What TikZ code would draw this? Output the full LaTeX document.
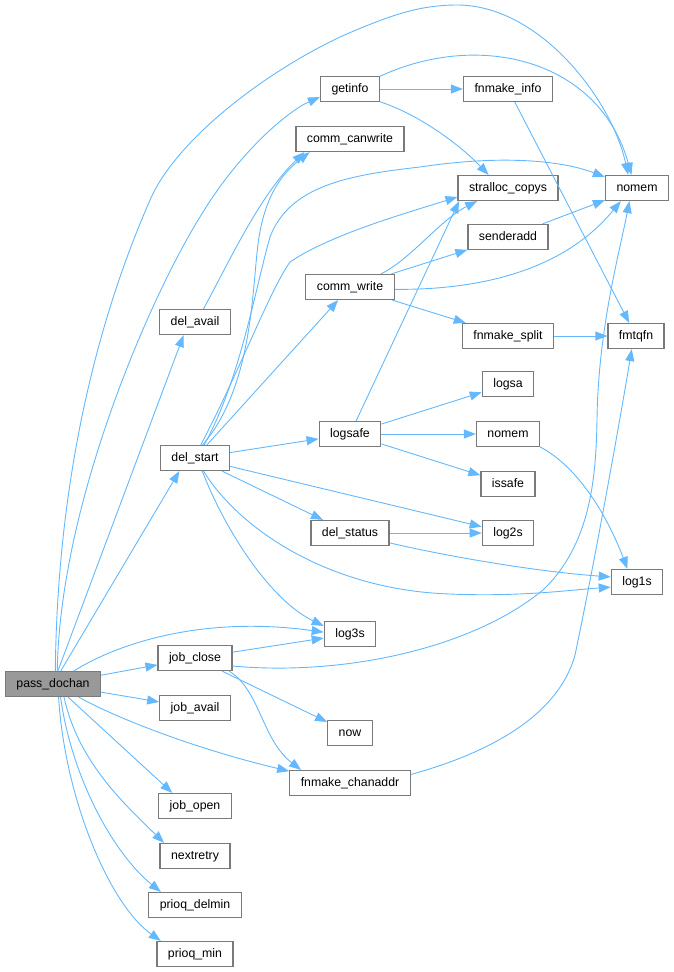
\documentclass[tikz,border=0pt]{standalone}
\usepackage{fontspec}
\setmainfont{Liberation Sans}
\usetikzlibrary{arrows.meta}
\definecolor{callblue}{HTML}{63B8FF}
\definecolor{boxgrey}{HTML}{7A7A7A}
\definecolor{rootgrey}{HTML}{999999}

\begin{document}
\begin{tikzpicture}[x=1pt,y=-1pt,>={Triangle[length=12pt,width=9pt]},
                  fn/.style={draw=boxgrey,line width=1.2pt,fill=white,minimum height=25pt,
                    inner xsep=11pt,inner ysep=0pt,text height=9pt,text depth=2.6pt,
                    font=\fontsize{12.3}{14}\selectfont},
                  call/.style={->,draw=callblue,line width=0.9pt}]
                  \useasboundingbox (0,0) rectangle (673,972);
                  % functions
                  \node[fn,fill=rootgrey] (passdochan) at (53,684) {pass\_dochan};
                  \node[fn] (delavail) at (195,322) {del\_avail};
                  \node[fn] (delstart) at (195,458) {del\_start};
                  \node[fn] (jobclose) at (195,658) {job\_close};
                  \node[fn] (jobavail) at (195,708) {job\_avail};
                  \node[fn] (jobopen) at (195,806) {job\_open};
                  \node[fn] (nextretry) at (195,856) {nextretry};
                  \node[fn] (prioqdelmin) at (195,905) {prioq\_delmin};
                  \node[fn] (prioqmin) at (195,954) {prioq\_min};
                  \node[fn] (getinfo) at (350,89) {getinfo};
                  \node[fn] (commcanwrite) at (350,139) {comm\_canwrite};
                  \node[fn] (commwrite) at (350,287) {comm\_write};
                  \node[fn] (logsafe) at (350,434) {logsafe};
                  \node[fn] (delstatus) at (350,533) {del\_status};
                  \node[fn] (logthrees) at (350,634) {log3s};
                  \node[fn] (now) at (350,733) {now};
                  \node[fn] (fnmakechanaddr) at (350,783) {fnmake\_chanaddr};
                  \node[fn] (fnmakeinfo) at (508,89) {fnmake\_info};
                  \node[fn] (stralloccopys) at (508,188) {stralloc\_copys};
                  \node[fn] (senderadd) at (508,237) {senderadd};
                  \node[fn] (fnmakesplit) at (508,336) {fnmake\_split};
                  \node[fn] (logsa) at (508,384) {logsa};
                  \node[fn] (nomemb) at (508,434) {nomem};
                  \node[fn] (issafe) at (508,484) {issafe};
                  \node[fn] (logtwos) at (508,533) {log2s};
                  \node[fn] (nomem) at (637,188) {nomem};
                  \node[fn] (fmtqfn) at (636,336) {fmtqfn};
                  \node[fn] (logones) at (637,582) {log1s};
                  % calls from pass_dochan
                  \draw[call] (passdochan.80) .. controls (58,420) and (125,258) .. (150,200)
                    .. controls (175,142) and (260,75) .. (340,37)
                    .. controls (390,15) and (420,5) .. (457,5)
                    .. controls (540,5) and (612,100) .. (nomem.124);
                  \draw[call] (passdochan.72) .. controls (60,500) and (153,292) .. (200,217)
                    .. controls (240,150) and (290,110) .. (getinfo.-165);
                  \draw[call] (passdochan) -- (delavail.-131);
                  \draw[call] (passdochan) -- (delstart.-140);
                  \draw[call] (passdochan.32) .. controls (115,645) and (200,615) .. (logthrees.176);
                  \draw[call] (passdochan) -- (jobclose);
                  \draw[call] (passdochan) -- (jobavail);
                  \draw[call] (passdochan.-27) .. controls (120,720) and (200,750) .. (fnmakechanaddr.169);
                  \draw[call] (passdochan.-41) -- (jobopen.150);
                  \draw[call] (passdochan.-50) .. controls (78,760) and (120,800) .. (nextretry.157);
                  \draw[call] (passdochan.-60) .. controls (72,780) and (115,855) .. (prioqdelmin.159);
                  \draw[call] (passdochan.-67) .. controls (65,800) and (110,905) .. (prioqmin.159);
                  % getinfo, del_avail
                  \draw[call] (getinfo) -- (fnmakeinfo);
                  \draw[call] (getinfo.23) .. controls (480,30) and (600,60) .. (nomem.113);
                  \draw[call] (getinfo.-23) .. controls (420,115) and (460,145) .. (stralloccopys.146);
                  \draw[call] (fnmakeinfo) -- (fmtqfn);
                  \draw[call] (delavail.57) .. controls (230,260) and (260,195) .. (commcanwrite.-164);
                  % del_start
                  \draw[call] (delstart.60) .. controls (250,390) and (252,300) .. (257,253)
                    .. controls (262,200) and (280,175) .. (commcanwrite.-162);
                  \draw[call] (delstart.55) .. controls (240,380) and (255,290) .. (270,237)
                    .. controls (290,185) and (350,175) .. (420,167)
                    .. controls (500,155) and (560,160) .. (nomem.161);
                  \draw[call] (delstart.66) .. controls (240,370) and (270,290) .. (290,262)
                    .. controls (330,235) and (400,215) .. (stralloccopys.-170);
                  \draw[call] (delstart) -- (commwrite);
                  \draw[call] (delstart) -- (logsafe);
                  \draw[call] (delstart) -- (delstatus);
                  \draw[call] (delstart) -- (logtwos);
                  \draw[call] (delstart.-57) .. controls (240,530) and (330,590) .. (450,594)
                    .. controls (520,597) and (570,590) .. (logones.-169);
                  \draw[call] (delstart.-61) .. controls (225,530) and (270,600) .. (logthrees.163);
                  % comm_write, logsafe, del_status
                  \draw[call] (commwrite.23) .. controls (410,260) and (440,220) .. (stralloccopys.-157);
                  \draw[call] (commwrite) -- (senderadd);
                  \draw[call] (commwrite.-3) .. controls (470,290) and (560,275) .. (nomem.-141);
                  \draw[call] (commwrite) -- (fnmakesplit);
                  \draw[call] (senderadd) -- (nomem);
                  \draw[call] (fnmakesplit) -- (fmtqfn);
                  \draw[call] (logsafe) -- (stralloccopys.-165);
                  \draw[call] (logsafe) -- (logsa);
                  \draw[call] (logsafe) -- (nomemb);
                  \draw[call] (logsafe) -- (issafe);
                  \draw[call] (nomemb.-22) .. controls (575,465) and (605,510) .. (logones.126);
                  \draw[call] (delstatus) -- (logtwos);
                  \draw[call] (delstatus.-14) .. controls (450,557) and (540,572) .. (logones.169);
                  % job_close, fnmake_chanaddr
                  \draw[call] (jobclose) -- (logthrees);
                  \draw[call] (jobclose.-12) .. controls (340,676) and (470,650) .. (543,590)
                    .. controls (590,545) and (596,480) .. (597,420)
                    .. controls (598,330) and (620,250) .. (nomem.-120);
                  \draw[call] (jobclose) -- (now);
                  \draw[call] (jobclose.-21) .. controls (260,690) and (262,740) .. (fnmakechanaddr.165);
                  \draw[call] (fnmakechanaddr.8) .. controls (500,750) and (560,710) .. (575,655)
                    .. controls (595,560) and (620,420) .. (fmtqfn.-108);
              \end{tikzpicture}
\end{document}
